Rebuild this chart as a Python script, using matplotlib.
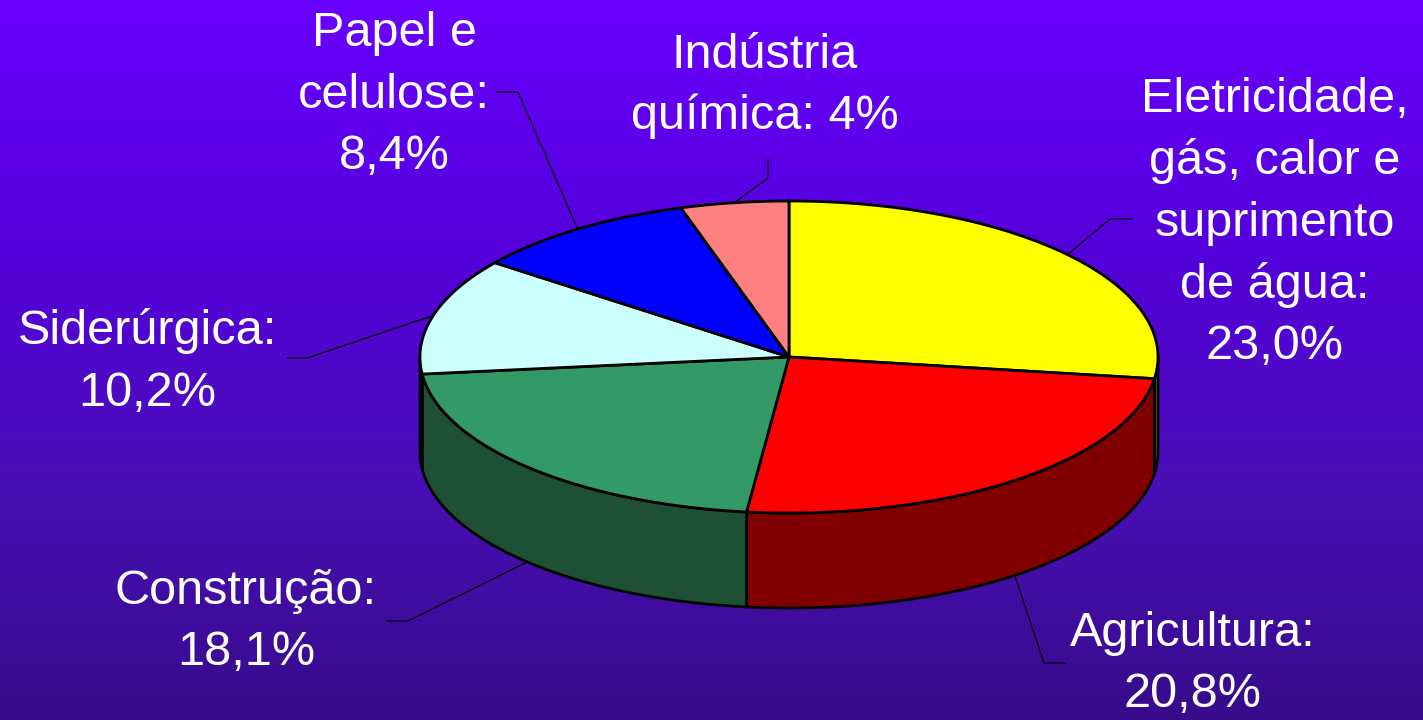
import matplotlib
matplotlib.use('Agg')
import matplotlib.pyplot as plt
import numpy as np
from matplotlib.patches import Polygon
from matplotlib.colors import LinearSegmentedColormap

# data
labels = ['Eletricidade,\ngás, calor e\nsuprimento\nde água:\n23,0%',
          'Agricultura:\n20,8%',
          'Construção:\n18,1%',
          'Siderúrgica:\n10,2%',
          'Papel e\ncelulose:\n8,4%',
          'Indústria\nquímica: 4%']
values = [23.0, 20.8, 18.1, 10.2, 8.4, 4.0]
top_colors = ['#FFFF00', '#FF0000', '#339966', '#CCFFFF', '#0000FF', '#FF8080']
side_colors = ['#808000', '#800000', '#1E5036', '#668080', '#000080', '#804040']

# layout (pixels)
W, H = 1423, 720
cx, cy, rx, ry, depth = 789, 357, 369, 156, 95
label_pos = [(1275, 223), (1193, 664), (246, 622), (147, 362), (394, 95), (765, 86)]
elbows = [[(1110, 219), (1132, 219)],
          [(1044, 663), (1066, 663)],
          [(408, 621), (387, 621)],
          [(307, 358), (287, 358)],
          [(518, 92), (497, 92)],
          [(768, 178), (768, 158)]]

plt.rcParams['font.family'] = ['Liberation Sans', 'DejaVu Sans']

fig = plt.figure(figsize=(W / 100, H / 100), dpi=100)
ax = fig.add_axes([0, 0, 1, 1])
ax.set_xlim(0, W)
ax.set_ylim(H, 0)
ax.axis('off')

# background gradient
cmap = LinearSegmentedColormap.from_list('bg', ['#6A00FF', '#5500DC', '#4A0FB8', '#370B8A'])
grad = np.linspace(0, 1, 256).reshape(-1, 1)
ax.imshow(grad, cmap=cmap, extent=[0, W, H, 0], aspect='auto', zorder=0)


def pt(t, dz=0):
    return cx + rx * np.cos(np.radians(t)), cy - ry * np.sin(np.radians(t)) + dz


fracs = np.array(values) / sum(values) * 360
starts = 90 - np.concatenate([[0], np.cumsum(fracs)[:-1]])
ends = starts - fracs

# side walls: only the front half (angles -180..0) is visible
for s, e, c in zip(starts, ends, side_colors):
    for off in (0, 360):
        hi = min(s + off, 0)
        lo = max(e + off, -180)
        if hi > lo:
            ts = np.linspace(hi, lo, 80)
            upper = [pt(t) for t in ts]
            lower = [pt(t, depth) for t in ts[::-1]]
            ax.add_patch(Polygon(upper + lower, closed=True, facecolor=c,
                                 edgecolor='black', lw=2, joinstyle='round', zorder=2))

# top faces
for s, e, c in zip(starts, ends, top_colors):
    ts = np.linspace(s, e, 120)
    verts = [(cx, cy)] + [pt(t) for t in ts]
    ax.add_patch(Polygon(verts, closed=True, facecolor=c, edgecolor='black',
                         lw=2, joinstyle='round', zorder=3))

# labels and leader lines
for s, f, lab, (lx, ly), el in zip(starts, fracs, labels, label_pos, elbows):
    mid = s - f / 2
    dz = depth if np.sin(np.radians(mid)) < 0 else 0
    ax_, ay_ = pt(mid, dz)
    xs = [ax_] + [p[0] for p in el]
    ys = [ay_] + [p[1] for p in el]
    ax.plot(xs, ys, color='black', lw=0.9, zorder=4)
    ax.text(lx, ly, lab, ha='center', va='center', color='white',
            fontsize=35, linespacing=1.46, zorder=5)

fig.savefig('out.png', dpi=100)
